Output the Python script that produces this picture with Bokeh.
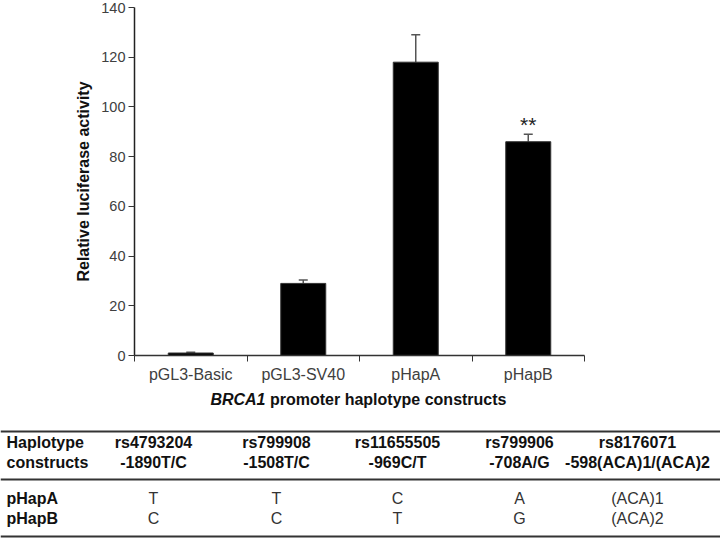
from bokeh.plotting import figure
from bokeh.models import (ColumnDataSource, Range1d, FixedTicker, Whisker, TeeHead)
from bokeh.layouts import column
from bokeh.core.properties import value
from bokeh.embed import file_html
from bokeh.resources import INLINE

# ---------------- data ----------------
categories = ["pGL3-Basic", "pGL3-SV40", "pHapA", "pHapB"]
activity = [1.0, 29.0, 118.0, 86.0]
sem = [0.3, 1.4, 11.0, 3.0]
significance = ["", "", "", "**"]

y_ticks = [0, 20, 40, 60, 80, 100, 120, 140]

table_header = ["Haplotype", "constructs"]
snp_ids = ["rs4793204", "rs799908", "rs11655505", "rs799906", "rs8176071"]
snp_alleles = ["-1890T/C", "-1508T/C", "-969C/T", "-708A/G", "-598(ACA)1/(ACA)2"]
row_labels = ["pHapA", "pHapB"]
hapA_alleles = ["T", "T", "C", "A", "(ACA)1"]
hapB_alleles = ["C", "C", "T", "G", "(ACA)2"]

FONT = "Liberation Sans"
W = 720

# ---------------- bar chart ----------------
xs = [i + 0.5 for i in range(len(categories))]
upper = [a + e for a, e in zip(activity, sem)]
src = ColumnDataSource(dict(x=xs, top=activity, upper=upper, sig=significance))

p = figure(width=W, height=385, x_range=Range1d(0, len(categories)),
           y_range=Range1d(0, 140), output_backend="svg", toolbar_location=None,
           min_border_left=134, min_border_right=136, min_border_top=7,
           min_border_bottom=29)
p.frame_align = False
p.outline_line_color = None
p.grid.visible = False

p.vbar(x="x", top="top", width=0.4, bottom=0, source=src,
       fill_color="black", line_color="#333333", line_width=1)

wh = Whisker(base="x", upper="upper", lower="top", source=src,
             lower_head=None,
             upper_head=TeeHead(size=9, line_color="#555555", line_width=1.5),
             line_color="#555555", line_width=1.5)
p.add_layout(wh)

p.text(x="x", y="upper", text="sig", source=src, text_align="center",
       text_baseline="alphabetic", y_offset=-10,
       text_font=value(FONT), text_font_size="21px", text_color="#222222")

xa = p.xaxis[0]
xa.ticker = FixedTicker(ticks=xs, minor_ticks=list(range(len(categories) + 1)))
xa.major_label_overrides = {x: c for x, c in zip(xs, categories)}
xa.major_tick_out = 0
xa.major_tick_in = 0
xa.minor_tick_out = 6
xa.minor_tick_in = 0
xa.minor_tick_line_color = "#333333"
xa.major_label_standoff = 4
xa.major_label_text_font = FONT
xa.major_label_text_font_size = "16px"
xa.major_label_text_color = "#404040"
xa.axis_line_color = "#333333"
xa.axis_line_width = 1.5

ya = p.yaxis[0]
ya.ticker = FixedTicker(ticks=y_ticks)
ya.major_tick_out = 6
ya.major_tick_in = 0
ya.minor_tick_line_color = None
ya.major_tick_line_color = "#333333"
ya.major_label_standoff = 3
ya.major_label_text_font = FONT
ya.major_label_text_font_size = "14.5px"
ya.major_label_text_color = "#404040"
ya.axis_line_color = "#222222"
ya.axis_line_width = 1.5
ya.axis_label = "Relative luciferase activity"
ya.axis_label_text_font = FONT
ya.axis_label_text_font_size = "16px"
ya.axis_label_text_font_style = "bold"
ya.axis_label_text_color = "#111111"
ya.axis_label_standoff = 6

# ---------------- axis title + table ----------------
TH = 153
t = figure(width=W, height=TH, x_range=Range1d(0, W), y_range=Range1d(TH, 0),
           output_backend="svg", toolbar_location=None, min_border=0,
           x_axis_location=None, y_axis_location=None)
t.frame_align = False
t.outline_line_color = None
t.grid.visible = False

# x-axis title with italic gene name
t.text(x=[265], y=[14], text=["BRCA1"], text_align="right", text_baseline="middle",
       text_font=value(FONT), text_font_size="16px", text_font_style="bold italic",
       text_color="#111111")
t.text(x=[269.5], y=[14], text=["promoter haplotype constructs"], text_align="left",
       text_baseline="middle", text_font=value(FONT), text_font_size="16px",
       text_font_style="bold", text_color="#111111")

# rules
t.segment(x0=[0, 0, 0], y0=[46, 94, 151], x1=[W, W, W], y1=[46, 94, 151],
          line_color="#333333", line_width=2)

col_x = [153, 276, 397, 519, 637]
hdr_y = [57, 77]
row_y = [113, 133]
FS = "16px"

t.text(x=[6, 6], y=hdr_y, text=table_header, text_align="left", text_baseline="middle",
       text_font=value(FONT), text_font_size=FS, text_font_style="bold",
       text_color="#111111")
t.text(x=col_x, y=[hdr_y[0]] * len(snp_ids), text=snp_ids, text_align="center",
       text_baseline="middle", text_font=value(FONT), text_font_size=FS,
       text_font_style="bold", text_color="#111111")
t.text(x=col_x, y=[hdr_y[1]] * len(snp_alleles), text=snp_alleles, text_align="center",
       text_baseline="middle", text_font=value(FONT), text_font_size=FS,
       text_font_style="bold", text_color="#111111")

t.text(x=[6, 6], y=row_y, text=row_labels, text_align="left", text_baseline="middle",
       text_font=value(FONT), text_font_size=FS, text_font_style="bold",
       text_color="#111111")
for alleles, yy in zip([hapA_alleles, hapB_alleles], row_y):
    t.text(x=col_x, y=[yy] * len(alleles), text=alleles, text_align="center",
           text_baseline="middle", text_font=value(FONT), text_font_size=FS,
           text_color="#333333")

layout = column(p, t, spacing=0)
open("out.html", "w").write(file_html(layout, INLINE))
